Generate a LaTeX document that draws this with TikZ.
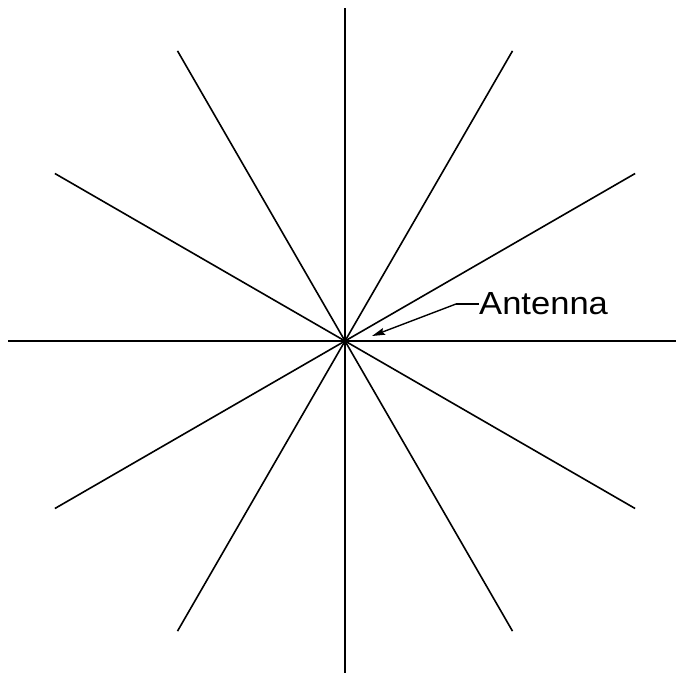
\documentclass[tikz,border=0pt]{standalone}
\usepackage{fontspec}
\setmainfont{Liberation Sans}
\usetikzlibrary{arrows.meta}
\begin{document}
\begin{tikzpicture}[x=1pt,y=-1pt,
  ray/.style={line width=1.6pt,line cap=butt},
  leader/.style={line width=1.4pt,-{Stealth[length=13pt,width=7pt,inset=2pt]}},
  lbl/.style={font=\fontsize{32}{32}\selectfont,inner sep=0pt,anchor=west,xscale=1.08}]
\useasboundingbox[fill=white] (0,0) rectangle (676,675);
\coordinate (c) at (345,341);
\foreach \a/\r in {0/331,180/337,90/333,270/332,30/335,60/335,120/335,150/335,210/335,240/335,300/335,330/335}{
  \draw[ray] (c) -- ++({\r*cos(\a)},{-\r*sin(\a)});
}
\node[lbl] (ant) at (479,304) {Antenna};
\coordinate (k) at (456,304);
\coordinate (tip) at (372,336);
\draw[line width=1.4pt] (ant.west) -- (k);
\draw[leader] (k) -- (tip);
\end{tikzpicture}
\end{document}
